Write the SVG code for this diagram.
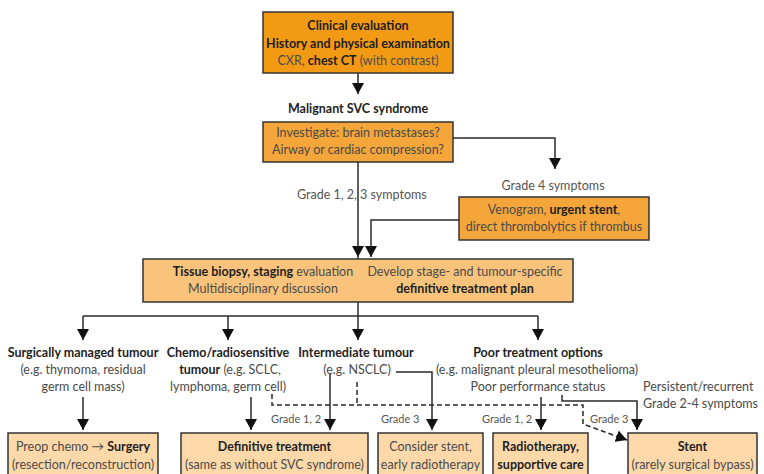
<svg xmlns="http://www.w3.org/2000/svg" width="764" height="474" viewBox="0 0 764 474">
<defs>
<style>
text{font-family:Lato,"Open Sans","Liberation Sans",sans-serif;font-size:12.5px;fill:#4a4a4a;text-anchor:middle}
.b{font-weight:700;fill:#1e1e1e}
.g{font-size:11px;fill:#555}
.box{stroke:#333;stroke-width:1.5}
.c1{fill:#F39A15}
.c2{fill:#F5A63A}
.c3{fill:#F9C37B}
.c4{fill:#FDD9AA}
.ln{fill:none;stroke:#2a2a2a;stroke-width:1.5}
.dl{fill:none;stroke:#2a2a2a;stroke-width:1.5;stroke-dasharray:5,3}
</style>
<marker id="ah" viewBox="0 0 11 12" refX="11" refY="6" markerWidth="11" markerHeight="12" markerUnits="userSpaceOnUse" orient="auto">
<path d="M0,0 L11,6 L0,12 Z" fill="#111"/>
</marker>
</defs>

<g id="connectors">
<path class="ln" d="M358,73 V94" marker-end="url(#ah)"/>
<path class="ln" d="M453,138 H555 V169" marker-end="url(#ah)"/>
<path class="ln" d="M358,162 V257" marker-end="url(#ah)"/>
<path class="ln" d="M459,220 H371 V257" marker-end="url(#ah)"/>
<path class="ln" d="M358,257 V340" marker-end="url(#ah)"/>
<path class="ln" d="M83,316 H538"/>
<path class="ln" d="M83,316 V340" marker-end="url(#ah)"/>
<path class="ln" d="M228,316 V340" marker-end="url(#ah)"/>
<path class="ln" d="M538,316 V340" marker-end="url(#ah)"/>
<path class="ln" d="M83,397 V430" marker-end="url(#ah)"/>
<path class="ln" d="M251,397 V430" marker-end="url(#ah)"/>
<path class="ln" d="M330,374 V430" marker-end="url(#ah)"/>
<path class="ln" d="M396,372 H432 V430" marker-end="url(#ah)"/>
<path class="ln" d="M541,397 V430" marker-end="url(#ah)"/>
<path class="ln" d="M562,395 V401 H637 V430" marker-end="url(#ah)"/>
<path class="dl" d="M272,394 V405 H583 V424 L627,440" marker-end="url(#ah)"/>
<path class="dl" d="M357,382 V405"/>
</g>

<g id="n-clinical">
<rect class="box c1" x="263" y="12" width="190" height="61"/>
<text x="358" y="30" class="b">Clinical evaluation</text>
<text x="358" y="48" class="b">History and physical examination</text>
<text x="358" y="65">CXR, <tspan class="b">chest CT</tspan> (with contrast)</text>
</g>

<g id="n-malignant">
<text x="358" y="113" class="b">Malignant SVC syndrome</text>
</g>

<g id="n-investigate">
<rect class="box c2" x="263" y="122" width="190" height="40"/>
<text x="358" y="137">Investigate: brain metastases?</text>
<text x="358" y="154">Airway or cardiac compression?</text>
</g>

<g id="n-grade123">
<text x="297" y="199" style="text-anchor:start;fill:#555">Grade 1, 2, 3 symptoms</text>
</g>

<g id="n-grade4">
<text x="553" y="190" style="fill:#555">Grade 4 symptoms</text>
</g>

<g id="n-venogram">
<rect class="box c2" x="459" y="197" width="190" height="43"/>
<text x="554" y="214">Venogram, <tspan class="b">urgent stent</tspan>,</text>
<text x="554" y="231">direct thrombolytics if thrombus</text>
</g>

<g id="n-biopsy">
<rect class="box c3" x="143" y="259" width="430" height="43"/>
<text x="263" y="276"><tspan class="b">Tissue biopsy, staging</tspan> evaluation</text>
<text x="263" y="293">Multidisciplinary discussion</text>
<text x="465" y="276">Develop stage- and tumour-specific</text>
<text x="465" y="293" class="b">definitive treatment plan</text>
</g>

<g id="n-surgical">
<text x="83" y="357" class="b">Surgically managed tumour</text>
<text x="83" y="374">(e.g. thymoma, residual</text>
<text x="83" y="391">germ cell mass)</text>
</g>

<g id="n-chemo">
<text x="228" y="357" class="b">Chemo/radiosensitive</text>
<text x="230" y="374"><tspan class="b">tumour</tspan> (e.g. SCLC,</text>
<text x="228" y="391">lymphoma, germ cell)</text>
</g>

<g id="n-intermediate">
<text x="356" y="357" class="b">Intermediate tumour</text>
<text x="357" y="374">(e.g. NSCLC)</text>
</g>

<g id="n-poor">
<text x="538" y="357" class="b">Poor treatment options</text>
<text x="537" y="374">(e.g. malignant pleural mesothelioma)</text>
<text x="538" y="391">Poor performance status</text>
</g>

<g id="n-persistent">
<text x="643" y="391" style="text-anchor:start">Persistent/recurrent</text>
<text x="643" y="408" style="text-anchor:start">Grade 2-4 symptoms</text>
</g>

<g id="n-grade-labels">
<text x="271" y="423" class="g" style="text-anchor:start">Grade 1, 2</text>
<text x="381" y="423" class="g" style="text-anchor:start">Grade 3</text>
<text x="482" y="423" class="g" style="text-anchor:start">Grade 1, 2</text>
<text x="590" y="423" class="g" style="text-anchor:start">Grade 3</text>
</g>

<g id="n-preop">
<rect class="box c4" x="8" y="433" width="150" height="44"/>
<text x="83" y="451">Preop chemo → <tspan class="b">Surgery</tspan></text>
<text x="83" y="469">(resection/reconstruction)</text>
</g>

<g id="n-definitive">
<rect class="box c4" x="181" y="433" width="187" height="44"/>
<text x="274.5" y="451" class="b">Definitive treatment</text>
<text x="274.5" y="469">(same as without SVC syndrome)</text>
</g>

<g id="n-consider">
<rect class="box c4" x="378" y="433" width="105" height="44"/>
<text x="430.5" y="451">Consider stent,</text>
<text x="430.5" y="469">early radiotherapy</text>
</g>

<g id="n-radio">
<rect class="box c4" x="493" y="433" width="95" height="44"/>
<text x="540.5" y="451" class="b">Radiotherapy,</text>
<text x="540.5" y="469" class="b">supportive care</text>
</g>

<g id="n-stent">
<rect class="box c4" x="628" y="433" width="129" height="44"/>
<text x="692.5" y="451" class="b">Stent</text>
<text x="692.5" y="469">(rarely surgical bypass)</text>
</g>
</svg>
